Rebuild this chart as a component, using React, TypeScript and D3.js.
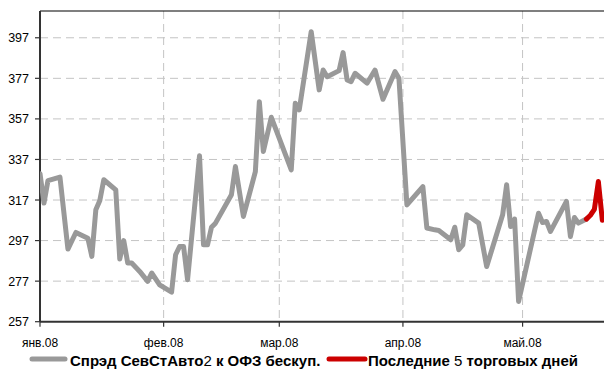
import React, { useEffect, useRef } from "react";
import * as d3 from "d3";

const dates: string[] = [
  "2008-01-01","2008-01-02","2008-01-03","2008-01-06","2008-01-08","2008-01-10","2008-01-13","2008-01-14",
  "2008-01-15","2008-01-16","2008-01-17","2008-01-20","2008-01-21","2008-01-22","2008-01-23","2008-01-24",
  "2008-01-26","2008-01-28","2008-01-29","2008-01-31","2008-02-03","2008-02-04","2008-02-05","2008-02-06",
  "2008-02-07","2008-02-10","2008-02-11","2008-02-12","2008-02-13","2008-02-14","2008-02-18","2008-02-19",
  "2008-02-21","2008-02-24","2008-02-25","2008-02-26","2008-02-28","2008-03-04","2008-03-05","2008-03-06",
  "2008-03-09","2008-03-11","2008-03-12","2008-03-13","2008-03-16","2008-03-17","2008-03-18","2008-03-19",
  "2008-03-20","2008-03-23","2008-03-25","2008-03-27","2008-03-30","2008-03-31","2008-04-02","2008-04-06",
  "2008-04-07","2008-04-09","2008-04-10","2008-04-13","2008-04-14","2008-04-15","2008-04-16","2008-04-17",
  "2008-04-20","2008-04-22","2008-04-26","2008-04-27","2008-04-28","2008-04-29","2008-04-30","2008-05-05",
  "2008-05-06","2008-05-07","2008-05-08","2008-05-12","2008-05-13","2008-05-14","2008-05-15","2008-05-17",
  "2008-05-18","2008-05-19","2008-05-20","2008-05-21",
];

const spread: number[] = [
  330, 315.5, 326.6, 328.3, 292.8, 301, 298.2, 289.2,
  312.2, 316.8, 327, 322, 287.9, 297, 285.9, 285.9,
  281.8, 276.9, 281, 275.2, 271.6, 290, 294.1, 294.1,
  277.7, 338.8, 294.9, 294.9, 303.6, 305.6, 319.6, 333.5,
  308.9, 331, 365.5, 340.9, 357.8, 331.9, 364.7, 361.4,
  400, 371.3, 381.1, 377.8, 380.8, 389.7, 376.2, 375.4,
  379.5, 374.6, 381.1, 366.7, 380.3, 377, 314.6, 323.6,
  303.2, 302.3, 302, 297.4, 303.6, 292.5, 294.9, 309.7,
  305.6, 284.2, 309.7, 324.5, 303.9, 307.6, 267, 310.5,
  305.9, 306.4, 301.5, 316.3, 299, 308.4, 305.6, 307.6,
  309.5, 312.4, 326.1, 307,
];

const yTicks: number[] = [257, 277, 297, 317, 337, 357, 377, 397];
const monthTicks: string[] = ["2008-01-01", "2008-02-01", "2008-03-01", "2008-04-01", "2008-05-01"];
const monthLabels: string[] = ["янв.08", "фев.08", "мар.08", "апр.08", "май.08"];
const lastDays = 5;
const legendMain: string[] = ["Спрэд СевСтАвто", "2", " к ОФЗ бескуп."];
const legendLast: string[] = ["Последние ", "5", " торговых дней"];

const W = 604;
const H = 369;
const left = 40;
const top = 11;
const bottom = 321.7;
const right = 604;

export default function App() {
  const ref = useRef<SVGSVGElement>(null);

  useEffect(() => {
    const svg = d3.select(ref.current);
    svg.selectAll("*").remove();
    const parse = d3.utcParse("%Y-%m-%d");
    const data = dates.map((d, i) => ({ date: parse(d) as Date, v: spread[i] }));

    const x = d3
      .scaleUtc()
      .domain([parse("2008-01-01") as Date, new Date(Date.UTC(2008, 4, 21, 10))])
      .range([left, right]);
    const y = d3.scaleLinear().domain([257, 410.2]).range([bottom, top]);

    const font = "'Liberation Sans', Arial, sans-serif";

    svg.append("defs").append("clipPath").attr("id", "plotclip")
      .append("rect").attr("x", left).attr("y", top - 3).attr("width", right - left + 5).attr("height", bottom - top + 3);

    // horizontal grid
    svg.append("g").selectAll("line").data(yTicks.filter((t) => t !== 257)).join("line")
      .attr("x1", left).attr("x2", right)
      .attr("y1", (d) => y(d)).attr("y2", (d) => y(d))
      .attr("stroke", "#c4c4c4").attr("stroke-width", 1).attr("stroke-dasharray", "8,5");

    // vertical grid
    svg.append("g").selectAll("line").data(monthTicks.slice(1)).join("line")
      .attr("x1", (d) => x(parse(d) as Date)).attr("x2", (d) => x(parse(d) as Date))
      .attr("y1", top).attr("y2", bottom)
      .attr("stroke", "#c4c4c4").attr("stroke-width", 1).attr("stroke-dasharray", "8,5");

    // top border
    svg.append("line").attr("x1", left).attr("x2", right).attr("y1", top).attr("y2", top)
      .attr("stroke", "#000").attr("stroke-width", 1.2);

    // y axis
    const yAxis = svg.append("g");
    yAxis.append("line").attr("x1", left).attr("x2", left).attr("y1", top).attr("y2", bottom)
      .attr("stroke", "#333").attr("stroke-width", 2);
    yAxis.selectAll("line.t").data(yTicks).join("line").attr("class", "t")
      .attr("x1", left - 5).attr("x2", left).attr("y1", (d) => y(d)).attr("y2", (d) => y(d))
      .attr("stroke", "#333").attr("stroke-width", 1.2);
    yAxis.selectAll("text").data(yTicks).join("text")
      .attr("x", 29).attr("y", (d) => y(d)).attr("dy", "0.36em")
      .attr("text-anchor", "end").attr("font-family", font).attr("font-size", 12.5)
      .attr("fill", "#000").text((d) => String(d));

    // x axis
    const xAxis = svg.append("g");
    xAxis.append("line").attr("x1", left).attr("x2", right).attr("y1", bottom).attr("y2", bottom)
      .attr("stroke", "#333").attr("stroke-width", 2);
    xAxis.selectAll("line.t").data(monthTicks).join("line").attr("class", "t")
      .attr("x1", (d) => x(parse(d) as Date)).attr("x2", (d) => x(parse(d) as Date))
      .attr("y1", bottom).attr("y2", bottom + 5)
      .attr("stroke", "#333").attr("stroke-width", 1.2);
    xAxis.selectAll("text").data(monthTicks).join("text")
      .attr("x", (d) => x(parse(d) as Date)).attr("y", 347)
      .attr("text-anchor", "middle").attr("font-family", font).attr("font-size", 12)
      .attr("fill", "#000").text((d, i) => monthLabels[i]);

    const line = d3.line<{ date: Date; v: number }>().x((d) => x(d.date)).y((d) => y(d.v));
    const g = svg.append("g").attr("clip-path", "url(#plotclip)");
    const split = data.length - lastDays;
    g.append("path").datum(data.slice(0, split + 1)).attr("d", line)
      .attr("fill", "none").attr("stroke", "#999999").attr("stroke-width", 5)
      .attr("stroke-linejoin", "round").attr("stroke-linecap", "round");
    g.append("path").datum(data.slice(split)).attr("d", line)
      .attr("fill", "none").attr("stroke", "#cc0000").attr("stroke-width", 5)
      .attr("stroke-linejoin", "round").attr("stroke-linecap", "round");

    // legend
    const lg = svg.append("g");
    lg.append("line").attr("x1", 32).attr("x2", 65).attr("y1", 359).attr("y2", 359)
      .attr("stroke", "#999999").attr("stroke-width", 5).attr("stroke-linecap", "round");
    const t1 = lg.append("text").attr("x", 70).attr("y", 366).attr("font-family", font)
      .attr("font-size", 15).attr("font-weight", "bold").attr("fill", "#000");
    legendMain.forEach((s, i) => t1.append("tspan").attr("font-weight", i === 1 ? "normal" : "bold").text(s));
    lg.append("line").attr("x1", 329).attr("x2", 365).attr("y1", 359).attr("y2", 359)
      .attr("stroke", "#cc0000").attr("stroke-width", 5).attr("stroke-linecap", "round");
    const t2 = lg.append("text").attr("x", 368).attr("y", 366).attr("font-family", font)
      .attr("font-size", 15).attr("font-weight", "bold").attr("fill", "#000");
    legendLast.forEach((s, i) => t2.append("tspan").attr("font-weight", i === 1 ? "normal" : "bold").text(s));
  }, []);

  return (
    <svg
      ref={ref}
      width={W}
      height={H}
      style={{ position: "absolute", left: 0, top: 0, display: "block", background: "#fff" }}
    />
  );
}
